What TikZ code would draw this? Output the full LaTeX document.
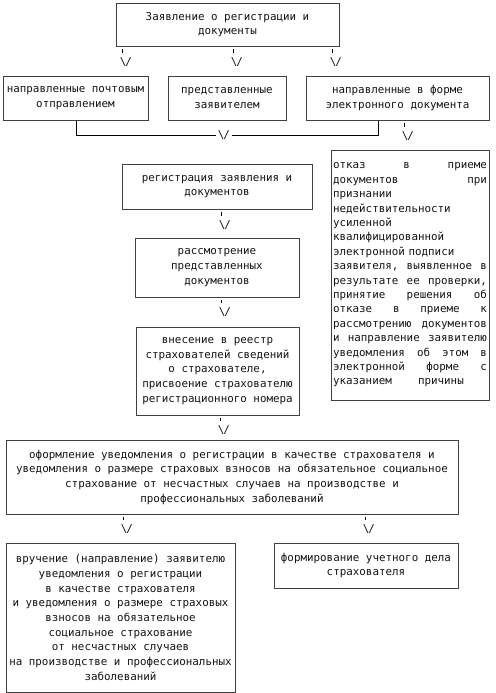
\documentclass[tikz,border=0pt]{standalone}
\usepackage{fontspec}
\setmainfont{DejaVu Sans Mono}
\usepackage{xcolor}
\usepackage{tikz}
\definecolor{framegray}{RGB}{64,64,64}
\definecolor{inkgray}{RGB}{20,20,20}
\newcommand{\vsign}{\textbackslash\kern-0.8pt/}
\newcommand{\fullline}[1]{\makebox[115.5pt]{#1}}

\begin{document}
\begin{tikzpicture}[x=0.75pt, y=-0.75pt,
    box/.style={draw=framegray, line width=0.75pt, align=center, inner sep=1.5pt, text=inkgray, font=\fontsize{8.15pt}{11pt}\selectfont},
    vee/.style={inner xsep=1.5pt, inner ysep=0pt, text=inkgray, font=\fontsize{8.15pt}{11pt}\selectfont},
    tick/.style={draw=black, line width=0.75pt, shorten <=3pt, shorten >=1.5pt},
    link/.style={draw=black, line width=0.75pt}]
    \useasboundingbox (0,0) rectangle (496,693);

    \node[box, minimum width=167.25pt, minimum height=32.25pt] (apply) at (227.5,24.5) {Заявление о регистрации и\\документы};

    \node[box, minimum width=108.75pt, minimum height=33pt] (post) at (75.5,98) {направленные почтовым\\отправлением};
    \node[box, minimum width=88.5pt, minimum height=33pt] (person) at (227,98) {представленные\\заявителем};
    \node[box, minimum width=137.25pt, minimum height=33pt] (digital) at (397.5,98) {направленные в форме\\электронного документа};

    \node[box, minimum width=142.5pt, minimum height=33.75pt] (register) at (217,186.5) {регистрация заявления и\\документов};
    \node[box, minimum width=123pt, minimum height=44.25pt] (review) at (217,267.5) {рассмотрение\\представленных\\документов};
    \node[box, minimum width=122.25pt, minimum height=66pt] (entry) at (217.5,371) {внесение в реестр\\страхователей сведений\\о страхователе,\\присвоение страхователю\\регистрационного номера};

    \node[box, align=left, text width=115.5pt, minimum width=118.5pt, minimum height=187.5pt, font=\fontsize{8.15pt}{10.8pt}\selectfont] (refusal) at (410,275) {\fullline{отказ\hfill в\hfill приеме}\\\fullline{документов\hfill при}\\признании\\недействительности\\усиленной\\квалифицированной\\электронной подписи\\\fullline{заявителя,\hfill выявленное\hfill в}\\\fullline{результате\hfill ее\hfill проверки,}\\\fullline{принятие\hfill решения\hfill об}\\\fullline{отказе\hfill в\hfill приеме\hfill к}\\\fullline{рассмотрению\hfill документов}\\\fullline{и\hfill направление\hfill заявителю}\\\fullline{уведомления\hfill об\hfill этом\hfill в}\\\fullline{электронной\hfill форме\hfill с}\\указанием\hspace{19.6pt}причины};

    \node[box, minimum width=339pt, minimum height=55.5pt] (notice) at (232,477) {оформление уведомления о регистрации в качестве страхователя и\\уведомления о размере страховых взносов на обязательное социальное\\страхование от несчастных случаев на производстве и\\профессиональных заболеваний};

    \node[box, minimum width=171.75pt, minimum height=111.75pt] (handover) at (120.5,617.5) {вручение (направление) заявителю\\уведомления о регистрации\\в качестве страхователя\\и уведомления о размере страховых\\взносов на обязательное\\социальное страхование\\от несчастных случаев\\на производстве и профессиональных\\заболеваний};
    \node[box, minimum width=138pt, minimum height=33.75pt] (file) at (366,565.5) {формирование учетного дела\\страхователя};

    \node[vee] (v1) at (126,62) {\vsign};
    \node[vee] (v2) at (237,62) {\vsign};
    \node[vee] (v3) at (336,62) {\vsign};
    \node[vee] (v4) at (224,135) {\vsign};
    \node[vee] (v5) at (408,136) {\vsign};
    \node[vee] (v6) at (225,225) {\vsign};
    \node[vee] (v7) at (225,312) {\vsign};
    \node[vee] (v8) at (224,430) {\vsign};
    \node[vee] (v9) at (127,529) {\vsign};
    \node[vee] (v10) at (369,529) {\vsign};

    \draw[tick] ([xshift=-3pt]v1.north) -- ([xshift=-3pt]v1.north |- apply.south);
    \draw[tick] ([xshift=-3pt]v2.north) -- ([xshift=-3pt]v2.north |- apply.south);
    \draw[tick] ([xshift=-3pt]v3.north) -- ([xshift=-3pt]v3.north |- apply.south);
    \draw[link] ([xshift=1.1pt]post.south) |- (v4.west);
    \draw[link] (v4.east) -| ([xshift=-14.6pt]digital.south);
    \draw[tick] ([xshift=-3pt]v5.north) -- ([xshift=-3pt]v5.north |- digital.south);
    \draw[tick] ([xshift=-3pt]v6.north) -- ([xshift=-3pt]v6.north |- register.south);
    \draw[tick] ([xshift=-3pt]v7.north) -- ([xshift=-3pt]v7.north |- review.south);
    \draw[tick] ([xshift=-3pt]v8.north) -- ([xshift=-3pt]v8.north |- entry.south);
    \draw[tick] ([xshift=-3pt]v9.north) -- ([xshift=-3pt]v9.north |- notice.south);
    \draw[tick] ([xshift=-3pt]v10.north) -- ([xshift=-3pt]v10.north |- notice.south);
\end{tikzpicture}
\end{document}
